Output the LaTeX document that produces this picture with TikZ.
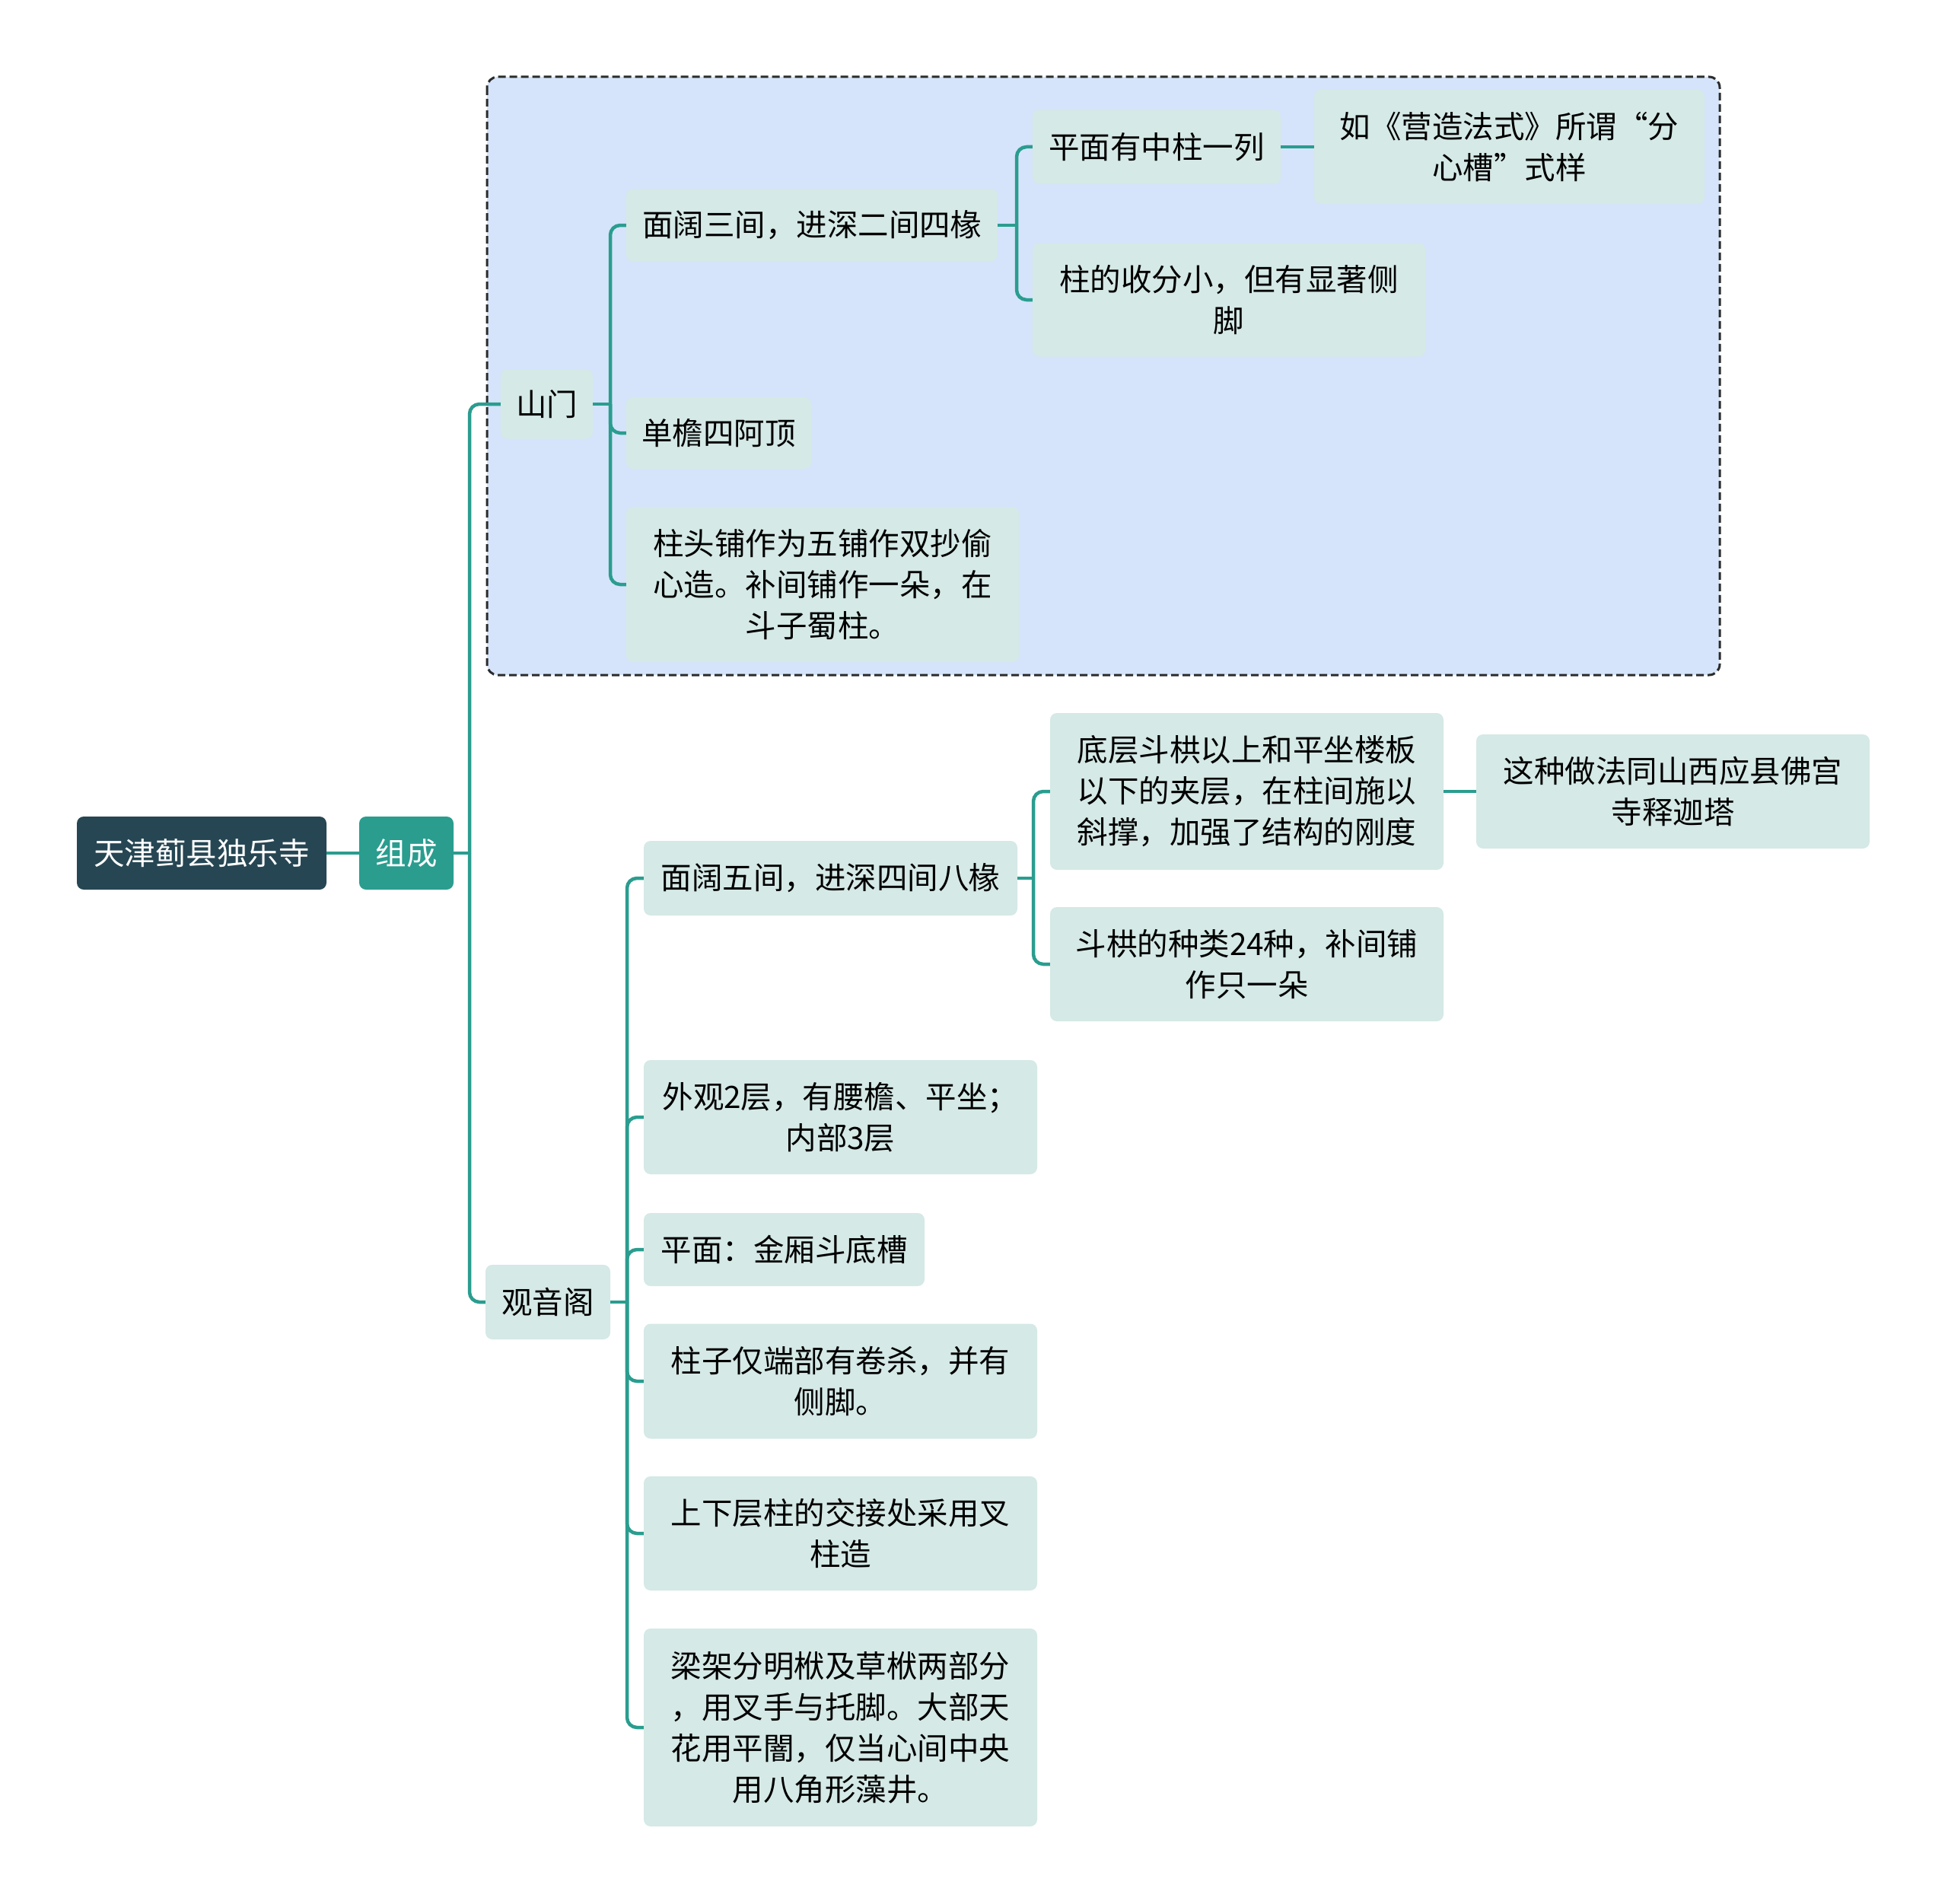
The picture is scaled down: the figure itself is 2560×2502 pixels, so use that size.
\documentclass[tikz,border=0pt]{standalone}
\usepackage{fontspec}
\setmainfont{Noto Sans CJK SC}
\newfontfamily\cjkf{Noto Sans CJK SC}
\definecolor{rootc}{HTML}{264653}
\definecolor{tealc}{HTML}{2A9D8F}
\definecolor{leafc}{HTML}{D5E9E6}
\definecolor{boxc}{HTML}{D5E4FA}
\definecolor{dashc}{HTML}{2B2B2B}
\tikzset{
  basebox/.style={rounded corners=9pt, align=center, inner sep=0pt, font={\cjkf\fontsize{40.5}{54}\selectfont}},
  rootbox/.style={basebox, fill=rootc, text=white},
  mainbox/.style={basebox, fill=tealc, text=white},
  leaf/.style={basebox, fill=leafc, text=black},
  conn/.style={draw=tealc, line width=4.5pt},
  elbow/.style={conn, rounded corners=13pt},
}
\begin{document}
\begin{tikzpicture}[x=1pt,y=-1pt]
\useasboundingbox (0,0) rectangle (2560,2502);
\fill[white] (0,0) rectangle (2560,2502);
% dashed group box
\draw[fill=boxc, draw=dashc, line width=3pt, dash pattern=on 10pt off 5pt, rounded corners=14pt] (640,101) rectangle (2260,887);

% nodes
\node[rootbox, minimum width=328pt, minimum height=96pt] (root) at (265,1121) {天津蓟县独乐寺};
\node[mainbox, minimum width=124pt, minimum height=96pt] (zc) at (534,1121) {组成};
\node[leaf, minimum width=121pt, minimum height=91pt] (sm) at (718.5,531) {山门};
\node[leaf, minimum width=164pt, minimum height=98pt] (gya) at (720,1711) {观音阁};

\node[leaf, minimum width=488pt, minimum height=95pt] (sm1) at (1067,296) {面阔三间，进深二间四椽};
\node[leaf, minimum width=243pt, minimum height=94pt] (sm2) at (944.5,569) {单檐四阿顶};
\node[leaf, minimum width=516pt, minimum height=204pt] (sm3) at (1081,768) {柱头铺作为五铺作双抄偷\\心造。补间铺作一朵，在\\斗子蜀柱。};
\node[leaf, minimum width=326pt, minimum height=97pt] (sm11) at (1520,193) {平面有中柱一列};
\node[leaf, minimum width=516pt, minimum height=149pt] (sm12) at (1615,394) {柱的收分小，但有显著侧\\脚};
\node[leaf, minimum width=513pt, minimum height=150pt] (sm111) at (1983.5,193) {如《营造法式》所谓“分\\心槽”式样};

\node[leaf, minimum width=491pt, minimum height=98pt] (g1) at (1091.5,1154) {面阔五间，进深四间八椽};
\node[leaf, minimum width=517pt, minimum height=150pt] (g2) at (1104.5,1468) {外观2层，有腰檐、平坐；\\内部3层};
\node[leaf, minimum width=369pt, minimum height=96pt] (g3) at (1030.5,1642) {平面：金厢斗底槽};
\node[leaf, minimum width=517pt, minimum height=151pt] (g4) at (1104.5,1815) {柱子仅端部有卷杀，并有\\侧脚。};
\node[leaf, minimum width=517pt, minimum height=150pt] (g5) at (1104.5,2015) {上下层柱的交接处采用叉\\柱造};
\node[leaf, minimum width=517pt, minimum height=260pt] (g6) at (1104.5,2270) {梁架分明栿及草栿两部分\\，用叉手与托脚。大部天\\花用平闇，仅当心间中央\\用八角形藻井。};
\node[leaf, minimum width=517pt, minimum height=206pt] (g11) at (1638.5,1040) {底层斗栱以上和平坐楼板\\以下的夹层，在柱间施以\\斜撑，加强了结构的刚度};
\node[leaf, minimum width=517pt, minimum height=150pt] (g12) at (1638.5,1267) {斗栱的种类24种，补间铺\\作只一朵};
\node[leaf, minimum width=517pt, minimum height=150pt] (g111) at (2198.5,1040) {这种做法同山西应县佛宫\\寺释迦塔};

% junctions
\coordinate (j1) at (617,1121);
\coordinate (j2) at (802,531);
\coordinate (j3) at (1336,296);
\coordinate (j4) at (824,1711);
\coordinate (j5) at (1358,1154);

% connectors
\draw[conn] (root.east) -- (zc.west);
\draw[conn] (zc.east) -- (j1);
\draw[elbow] (j1) |- (sm.west);
\draw[elbow] (j1) |- (gya.west);

\draw[conn] (sm.east) -- (j2);
\draw[elbow] (j2) |- (sm1.west);
\draw[elbow] (j2) |- (sm2.west);
\draw[elbow] (j2) |- (sm3.west);

\draw[conn] (sm1.east) -- (j3);
\draw[elbow] (j3) |- (sm11.west);
\draw[elbow] (j3) |- (sm12.west);
\draw[conn] (sm11.east) -- (sm111.west);

\draw[conn] (gya.east) -- (j4);
\draw[elbow] (j4) |- (g1.west);
\draw[elbow] (j4) |- (g2.west);
\draw[elbow] (j4) |- (g3.west);
\draw[elbow] (j4) |- (g4.west);
\draw[elbow] (j4) |- (g5.west);
\draw[elbow] (j4) |- (g6.west);

\draw[conn] (g1.east) -- (j5);
\draw[elbow] (j5) |- (g11.west);
\draw[elbow] (j5) |- (g12.west);
\draw[conn] (g11.east) -- (g111.west);
\end{tikzpicture}
\end{document}
